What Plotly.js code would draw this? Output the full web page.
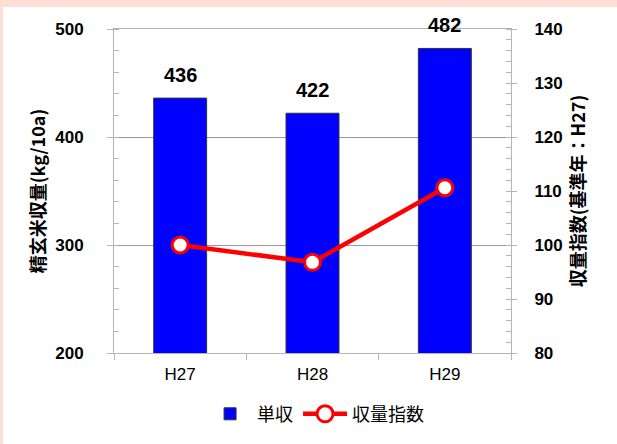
<!DOCTYPE html>
<html>
<head>
<meta charset="utf-8">
<script src="https://cdn.plot.ly/plotly-3.0.1.min.js"></script>
<style>
  html, body { margin: 0; padding: 0; width: 617px; height: 444px; background: #FFDFD3; overflow: hidden; }
  #chart { position: absolute; left: 3px; top: 7px; width: 614px; height: 437px; background: #fff; }
</style>
</head>
<body>
<div id="chart"></div>
<script>
// ---- data ----
const years = ['H27', 'H28', 'H29'];
const yieldVals = [436, 422, 482];          // 単収 (kg/10a)
const indexVals = [100, 96.8, 110.6];       // 収量指数 (基準年：H27 = 100)
const seriesNames = ['単収', '収量指数'];
const leftTitle = '精玄米収量(kg/10a)';
const rightTitle = '収量指数(基準年：H27)';

const FONT = 'Liberation Sans, Arial, Noto Sans CJK JP, sans-serif';
const CJK = 'Noto Sans CJK JP, Liberation Sans, sans-serif';
const axisGray = '#b4b4b4';

const traces = [
  {
    type: 'bar',
    name: seriesNames[0],
    x: years,
    y: yieldVals,
    width: 0.4,
    marker: { color: '#0000FF', line: { color: '#333333', width: 1 } },
    yaxis: 'y',
    hoverinfo: 'skip'
  },
  {
    type: 'scatter',
    mode: 'lines+markers',
    name: seriesNames[1],
    x: years,
    y: indexVals,
    yaxis: 'y2',
    line: { color: '#FF0000', width: 4.5 },
    marker: { symbol: 'circle', size: 16, color: '#FFFFFF', line: { color: '#FF0000', width: 3 } },
    cliponaxis: false,
    hoverinfo: 'skip'
  }
];

const annotations = years.map((c, i) => ({
  x: c, y: yieldVals[i], xref: 'x', yref: 'y',
  text: String(yieldVals[i]),
  showarrow: false, yanchor: 'bottom', yshift: 10,
  font: { family: FONT, size: 20, weight: 'bold', color: '#000' }
}));

const layout = {
  width: 614, height: 437,
  margin: { l: 111, r: 106, t: 22, b: 90 },
  paper_bgcolor: '#FFFFFF',
  plot_bgcolor: '#FFFFFF',
  showlegend: true,
  bargap: 0.6,
  font: { family: FONT, color: '#000' },
  xaxis: {
    type: 'category',
    range: [-0.5, 2.5],
    tickson: 'boundaries',
    ticks: 'outside', ticklen: 6, tickcolor: axisGray,
    showline: true, linecolor: axisGray, linewidth: 1, mirror: true,
    showgrid: false, zeroline: false,
    tickfont: { family: FONT, size: 17, color: '#000' },
    ticklabelstandoff: 6
  },
  yaxis: {
    range: [200, 500], dtick: 100,
    ticks: 'outside', ticklen: 6, tickcolor: axisGray,
    minor: { dtick: 20, ticks: 'inside', ticklen: 5, tickcolor: axisGray, showgrid: false },
    showline: true, linecolor: axisGray, linewidth: 1,
    showgrid: true, gridcolor: '#999999', gridwidth: 1, zeroline: false,
    tickfont: { family: FONT, size: 17, weight: 'bold', color: '#000' },
    ticklabelstandoff: 20,
    title: { text: leftTitle, font: { family: CJK, size: 18, weight: 'bold', color: '#000' }, standoff: 4 }
  },
  yaxis2: {
    overlaying: 'y', side: 'right',
    range: [80, 140], dtick: 10,
    ticks: 'outside', ticklen: 5, tickcolor: axisGray,
    minor: { dtick: 2, ticks: 'inside', ticklen: 5, tickcolor: axisGray, showgrid: false },
    showline: true, linecolor: axisGray, linewidth: 1,
    showgrid: false, zeroline: false,
    tickfont: { family: FONT, size: 17, weight: 'bold', color: '#000' },
    ticklabelstandoff: 14,
    title: { text: rightTitle, font: { family: CJK, size: 18, weight: 'bold', color: '#000' }, standoff: 10 }
  },
  legend: {
    orientation: 'h',
    x: 0.509, xanchor: 'center',
    y: -0.185, yanchor: 'middle',
    font: { family: CJK, size: 18, color: '#000' },
    itemwidth: 44,
    traceorder: 'normal'
  },
  annotations: annotations
};

Plotly.newPlot('chart', traces, layout, { staticPlot: true, displayModeBar: false });
</script>
</body>
</html>
